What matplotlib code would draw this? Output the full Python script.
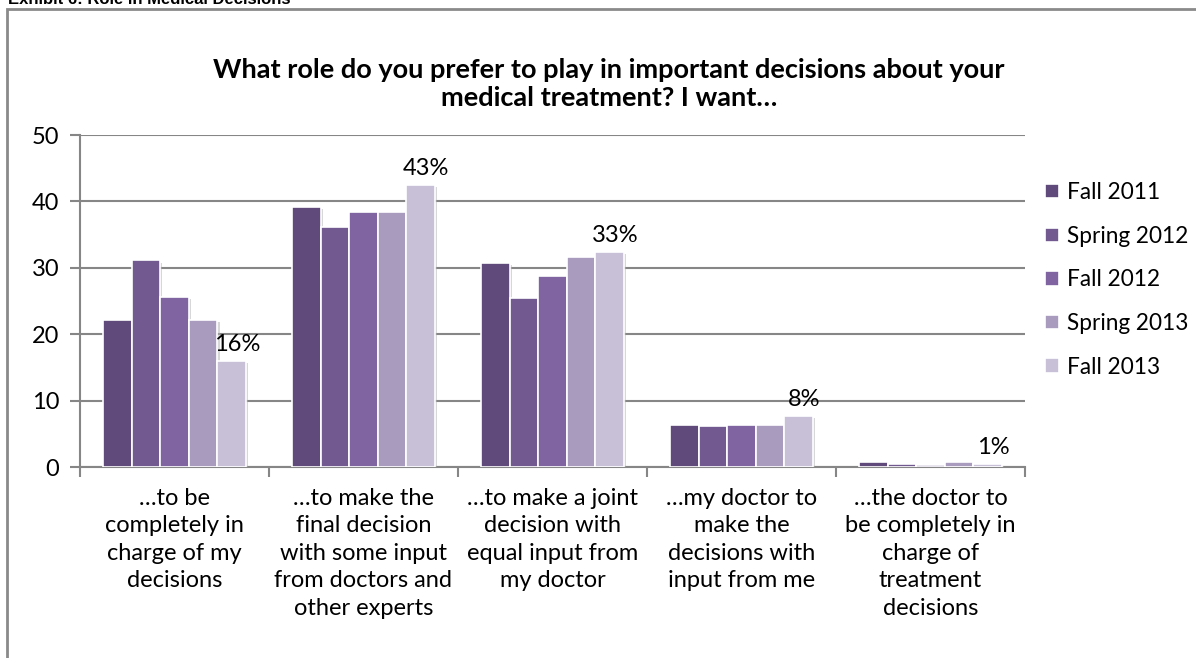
import matplotlib
matplotlib.use("Agg")
import matplotlib.pyplot as plt
import matplotlib.patheffects as pe
from matplotlib.patches import Rectangle
import numpy as np

plt.rcParams['font.family'] = ['Lato', 'DejaVu Sans']

categories = [
    "\u2026to be\ncompletely in\ncharge of my\ndecisions",
    "\u2026to make the\nfinal decision\nwith some input\nfrom doctors and\nother experts",
    "\u2026to make a joint\ndecision with\nequal input from\nmy doctor",
    "\u2026my doctor to\nmake the\ndecisions with\ninput from me",
    "\u2026the doctor to\nbe completely in\ncharge of\ntreatment\ndecisions",
]
series_names = ["Fall 2011", "Spring 2012", "Fall 2012", "Spring 2013", "Fall 2013"]
fall_2011 = [22.1, 39.1, 30.7, 6.4, 0.7]
spring_2012 = [31.1, 36.2, 25.4, 6.2, 0.45]
fall_2012 = [25.6, 38.4, 28.7, 6.3, 0.3]
spring_2013 = [22.1, 38.4, 31.6, 6.35, 0.75]
fall_2013 = [16.0, 42.5, 32.4, 7.7, 0.45]
latest_labels = ["16%", "43%", "33%", "8%", "1%"]

series = [fall_2011, spring_2012, fall_2012, spring_2013, fall_2013]
colors = ["#5f4a7b", "#72598f", "#8064a2", "#a99bbe", "#c7c0d7"]

FS = 17
W, H = 1196, 658
fig = plt.figure(figsize=(W / 100, H / 100), dpi=100)

# plot area in pixel terms: x 80..1025, y 135..467 (from top)
ax = fig.add_axes([80 / W, 1 - 467 / H, (1025 - 80) / W, (467 - 135) / H])

x = np.arange(len(categories))
bw = 0.1515
shadow = [pe.SimplePatchShadow(offset=(1.5, -1.5), shadow_rgbFace="#b0b0b0", alpha=0.5), pe.Normal()]
for i, (vals, name, c) in enumerate(zip(series, series_names, colors)):
    bars = ax.bar(x + (i - 2) * bw, vals, width=bw, color=c, edgecolor="white",
                  linewidth=1.2, label=name, zorder=3)
    for b in bars:
        b.set_path_effects(shadow)

# value labels above the latest survey wave
for xi, v, lab in zip(x, fall_2013, latest_labels):
    ax.annotate(lab, (xi + 2 * bw, v), xytext=(4, 4), textcoords="offset points",
                ha="center", va="bottom", fontsize=FS, color="#000000", zorder=4)

ax.set_xlim(-0.5, len(categories) - 0.5)
ax.set_ylim(0, 50)
ax.set_yticks(range(0, 51, 10))
ax.yaxis.grid(True, color="#868686", linewidth=1.5, zorder=0)
ax.set_axisbelow(True)

ax.set_xticks(np.arange(-0.5, len(categories)), minor=False)
ax.set_xticklabels([])
ax.set_xticks(x, minor=True)
ax.set_xticklabels(categories, minor=True, fontsize=FS, linespacing=1.38)
ax.tick_params(axis="x", which="major", length=7, width=1.5, color="#868686", direction="out")
ax.tick_params(axis="x", which="minor", length=0, pad=15)
ax.tick_params(axis="y", length=7, width=1.5, color="#868686", labelsize=FS, pad=8)

for side in ["top", "right"]:
    ax.spines[side].set_visible(False)
for side in ["left", "bottom"]:
    ax.spines[side].set_color("#868686")
    ax.spines[side].set_linewidth(1.5)

fig.text(609 / W, 1 - 84 / H,
         "What role do you prefer to play in important decisions about your\nmedical treatment? I want\u2026",
         ha="center", va="center", fontsize=19.5, fontweight="bold", linespacing=1.2)

handles, labels = ax.get_legend_handles_labels()
leg = fig.legend(handles, labels, loc="upper left", bbox_to_anchor=(1036 / W, 1 - 173 / H),
                 frameon=False, fontsize=16.3, handlelength=0.6, handleheight=0.6,
                 handletextpad=0.35, labelspacing=1.0, borderaxespad=0)
for h in leg.legend_handles:
    h.set_path_effects([])

# outer frame and cut-off exhibit caption
fig.patches.append(Rectangle((7 / W, -0.2), 1.5, 1.2 - 9 / H, transform=fig.transFigure,
                             fill=False, edgecolor="#8a8a8a", linewidth=2, zorder=0))
fig.text(8 / W, 1 - 4 / H, "Exhibit 6: Role in Medical Decisions", ha="left", va="baseline",
         fontsize=12, fontweight="bold", family=["Liberation Sans", "DejaVu Sans"])

fig.savefig("out.png", dpi=100)
